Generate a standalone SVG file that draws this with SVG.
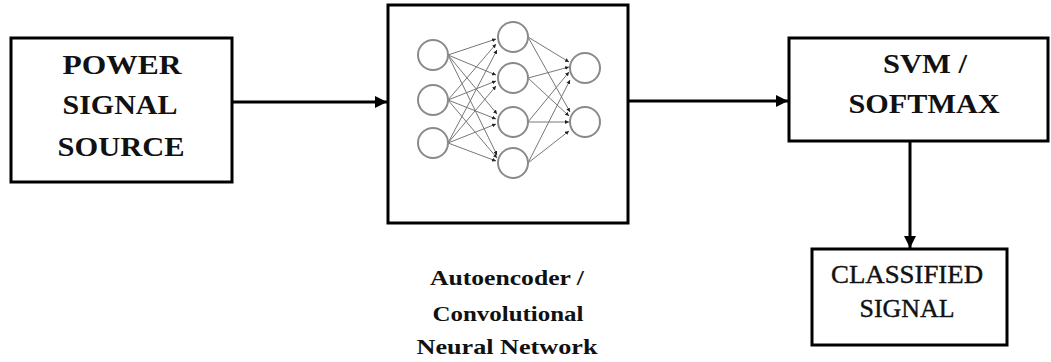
<svg xmlns="http://www.w3.org/2000/svg" width="1051" height="362" viewBox="0 0 1051 362">
  <style>
    .box { fill: #ffffff; stroke: #000000; stroke-width: 3; }
    .t { font-family: 'Liberation Serif', 'DejaVu Serif', Tinos, 'Times New Roman', Times, serif; fill: #111111; text-anchor: middle; }
    .big { font-size: 28px; font-weight: bold; }
    .mid { font-size: 25px; font-weight: normal; stroke: #111111; stroke-width: 0.4; }
    .lab { font-size: 22px; font-weight: bold; }
    .conn { stroke: #000000; stroke-width: 3; fill: none; marker-end: url(#ah); }
    .neuron { fill: #ffffff; stroke: #8a8a8a; stroke-width: 2; }
    .syn { stroke: #777777; stroke-width: 1; fill: none; marker-end: url(#sah); }
  </style>
  <defs>
    <marker id="ah" viewBox="0 0 10 10" refX="10" refY="5" markerWidth="4.5" markerHeight="4" orient="auto" markerUnits="strokeWidth">
      <path d="M0,0 L10,5 L0,10 Z" fill="#000000"/>
    </marker>
    <marker id="sah" viewBox="0 0 10 10" refX="10" refY="5" markerWidth="4" markerHeight="4" orient="auto" markerUnits="strokeWidth">
      <path d="M0,0 L10,5 L0,10 Z" fill="#222222"/>
    </marker>
  </defs>
  <rect width="1051" height="362" fill="#ffffff"/>

  <g id="connectors">
    <line class="conn" x1="233" y1="102" x2="387" y2="102"/>
    <line class="conn" x1="629" y1="101" x2="788" y2="101"/>
    <line class="conn" x1="910" y1="142" x2="910" y2="248"/>
  </g>

  <g id="power-signal-source">
    <rect class="box" x="11" y="38" width="221" height="144"/>
    <text class="t big" font-family="Liberation Serif, serif" x="122" y="74" textLength="119" lengthAdjust="spacingAndGlyphs">POWER</text>
    <text class="t big" font-family="Liberation Serif, serif" x="120" y="114" textLength="115" lengthAdjust="spacingAndGlyphs">SIGNAL</text>
    <text class="t big" font-family="Liberation Serif, serif" x="121" y="156" textLength="127" lengthAdjust="spacingAndGlyphs">SOURCE</text>
  </g>

  <g id="neural-network">
    <rect class="box" x="388" y="5" width="240" height="218"/>
    <g id="synapses">
      <line class="syn" x1="448" y1="55" x2="496" y2="39"/>
      <line class="syn" x1="448" y1="55" x2="496" y2="75"/>
      <line class="syn" x1="448" y1="55" x2="497" y2="114"/>
      <line class="syn" x1="448" y1="55" x2="497" y2="155"/>
      <line class="syn" x1="448" y1="100" x2="496" y2="44"/>
      <line class="syn" x1="448" y1="100" x2="496" y2="81"/>
      <line class="syn" x1="448" y1="100" x2="496" y2="119"/>
      <line class="syn" x1="448" y1="100" x2="497" y2="158"/>
      <line class="syn" x1="448" y1="143" x2="497" y2="50"/>
      <line class="syn" x1="448" y1="143" x2="496" y2="86"/>
      <line class="syn" x1="448" y1="143" x2="496" y2="124"/>
      <line class="syn" x1="448" y1="143" x2="496" y2="161"/>
      <line class="syn" x1="528" y1="37" x2="569" y2="62"/>
      <line class="syn" x1="528" y1="78" x2="569" y2="67"/>
      <line class="syn" x1="528" y1="122" x2="569" y2="72"/>
      <line class="syn" x1="528" y1="163" x2="570" y2="80"/>
      <line class="syn" x1="528" y1="37" x2="570" y2="112"/>
      <line class="syn" x1="528" y1="78" x2="569" y2="116"/>
      <line class="syn" x1="528" y1="122" x2="569" y2="122"/>
      <line class="syn" x1="528" y1="163" x2="569" y2="131"/>
    </g>
    <circle class="neuron" cx="433" cy="55" r="15"/>
    <circle class="neuron" cx="433" cy="100" r="15"/>
    <circle class="neuron" cx="433" cy="143" r="15"/>
    <circle class="neuron" cx="513" cy="37" r="15"/>
    <circle class="neuron" cx="513" cy="78" r="15"/>
    <circle class="neuron" cx="513" cy="122" r="15"/>
    <circle class="neuron" cx="513" cy="163" r="15"/>
    <circle class="neuron" cx="585" cy="68" r="15"/>
    <circle class="neuron" cx="585" cy="122" r="15"/>
  </g>

  <g id="nn-label">
    <text class="t lab" font-family="Liberation Serif, serif" x="507" y="285" textLength="154" lengthAdjust="spacingAndGlyphs">Autoencoder /</text>
    <text class="t lab" font-family="Liberation Serif, serif" x="508" y="321" textLength="151" lengthAdjust="spacingAndGlyphs">Convolutional</text>
    <text class="t lab" font-family="Liberation Serif, serif" x="507" y="354" textLength="181" lengthAdjust="spacingAndGlyphs">Neural Network</text>
  </g>

  <g id="svm-softmax">
    <rect class="box" x="789" y="38" width="259" height="103"/>
    <text class="t big" font-family="Liberation Serif, serif" x="925" y="73" textLength="84" lengthAdjust="spacingAndGlyphs">SVM /</text>
    <text class="t big" font-family="Liberation Serif, serif" x="924" y="113" textLength="151" lengthAdjust="spacingAndGlyphs">SOFTMAX</text>
  </g>

  <g id="classified-signal">
    <rect class="box" x="812" y="249" width="195" height="96"/>
    <text class="t mid" font-family="Liberation Serif, serif" x="907" y="283" textLength="152" lengthAdjust="spacingAndGlyphs">CLASSIFIED</text>
    <text class="t mid" font-family="Liberation Serif, serif" x="907" y="317" textLength="95" lengthAdjust="spacingAndGlyphs">SIGNAL</text>
  </g>
</svg>
